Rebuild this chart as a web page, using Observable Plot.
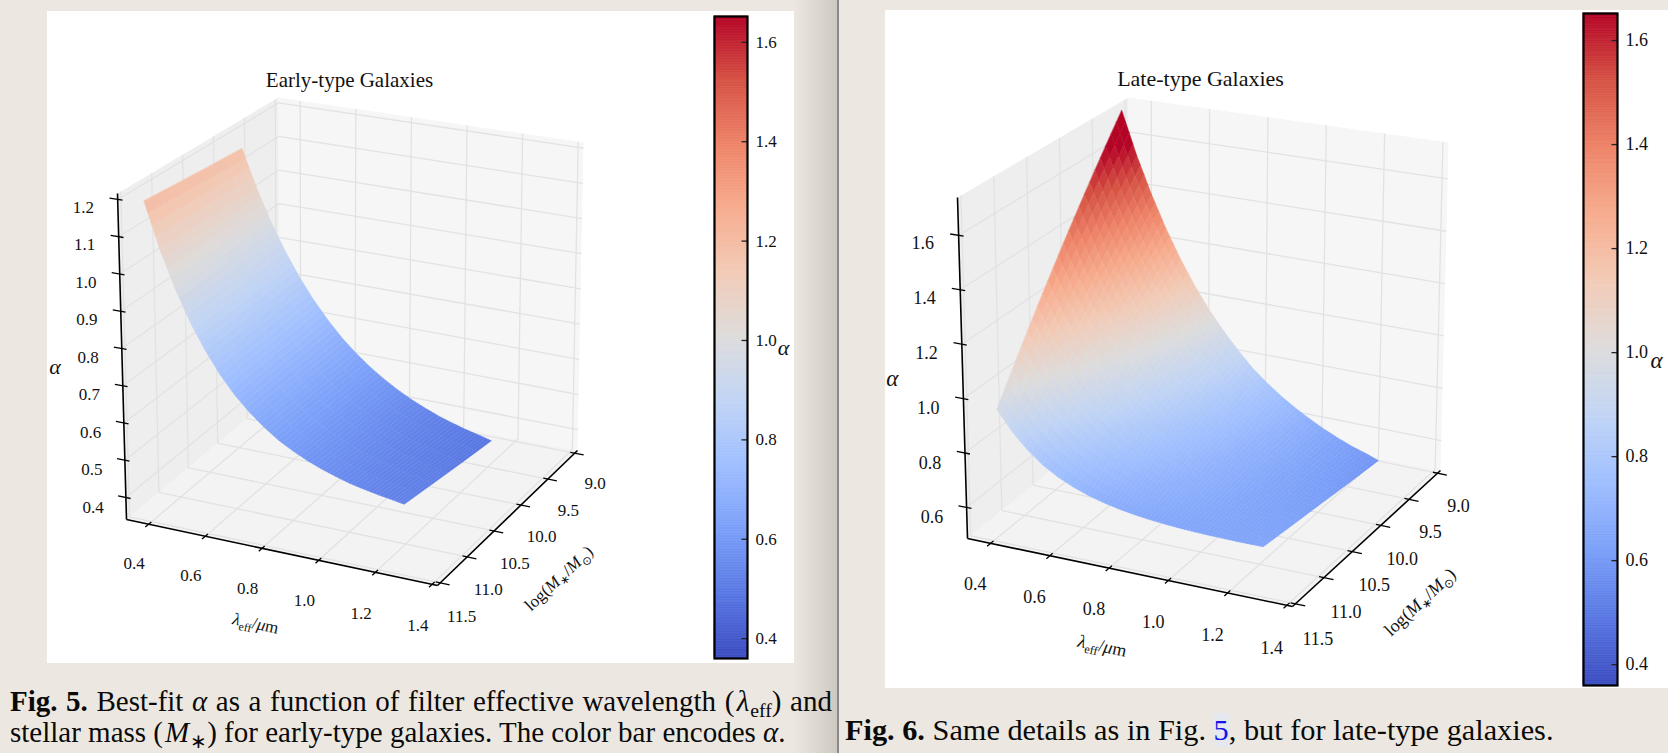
<!DOCTYPE html>
<html><head><meta charset="utf-8">
<script src="https://cdn.jsdelivr.net/npm/d3@7"></script>
<script src="https://cdn.jsdelivr.net/npm/@observablehq/plot@0.6"></script>
<style>
html,body{margin:0;padding:0}
body{width:1668px;height:753px;background:#ece8e1;position:relative;overflow:hidden;font-family:"Liberation Serif","Times New Roman",serif;color:#0a0a0a}
.abs{position:absolute}
.panel{position:absolute;background:#fff}
.panel svg{position:absolute;left:0;top:0;overflow:visible}
.cap{position:absolute;white-space:nowrap}
.cap sub{font-size:0.68em;line-height:0;vertical-align:-0.28em;margin-left:1px}
.cap i.sp{margin-left:2px}
</style></head>
<body>
<div class="abs" style="left:794px;top:0;width:43px;height:753px;background:linear-gradient(to right,rgba(120,110,95,0),rgba(110,100,90,0.24))"></div>
<div class="abs" style="left:837px;top:0;width:2px;height:753px;background:#8a8a8a"></div>
<div class="panel" id="pL" style="left:47px;top:11px;width:747px;height:652px"></div>
<div class="panel" id="pR" style="left:885px;top:10px;width:783px;height:678px"></div>
<div class="cap" style="left:10px;top:687px;width:822px;height:29px;font-size:29px;line-height:29px;text-align:justify;text-align-last:justify;white-space:nowrap;word-spacing:-2px"><b>Fig. 5.</b> Best-fit <i>α</i> as a function of filter effective wavelength <span style="white-space:nowrap">(&#8202;<i>λ</i><sub>eff</sub>)</span> and</div>
<div class="cap" style="left:10px;top:718px;font-size:29px;line-height:29px">stellar mass (<i class="sp">M</i><sub>∗</sub>) for early-type galaxies. The color bar encodes <i>α</i>.</div>
<div class="cap" style="left:845px;top:715px;font-size:30.3px;line-height:30px"><b>Fig. 6.</b> Same details as in Fig. <span style="color:#1515e8;background:#e6e8ef">5</span>, but for late-type galaxies.</div>
<script>
// ================= DATA =================
const lambdaTicks = [0.4, 0.6, 0.8, 1.0, 1.2, 1.4];
const massTicks = [9.0, 9.5, 10.0, 10.5, 11.0, 11.5];
const alphaTicksEarly = [0.4, 0.5, 0.6, 0.7, 0.8, 0.9, 1.0, 1.1, 1.2];
const alphaTicksLate = [0.6, 0.8, 1.0, 1.2, 1.4, 1.6];
const colorbarTicks = [0.4, 0.6, 0.8, 1.0, 1.2, 1.4, 1.6];
const colorDomain = [0.36, 1.652];

// axis (pane) limits of the 3D boxes
const lambdaLim = [0.322, 1.419];
const massLim = [11.552, 8.948];          // front -> back
const alphaLimEarly = [0.341, 1.216];
const alphaLimLate = [0.486, 1.739];

// surface grid: effective wavelength nodes
const surfLambda = [0.40,0.45,0.50,0.55,0.60,0.65,0.70,0.75,0.80,0.85,0.90,0.95,1.00,1.05,1.10,1.15,1.20,1.25,1.29];

// Early-type surface: alpha along lambda for each log stellar mass
const earlyMass = [9.9, 10.7, 11.5];
const earlyAlpha_9_9  = [1.180,1.075,0.985,0.908,0.841,0.784,0.735,0.692,0.656,0.625,0.598,0.575,0.555,0.538,0.523,0.511,0.500,0.491,0.483];
const earlyAlpha_10_7 = [1.190,1.077,0.982,0.902,0.834,0.777,0.729,0.689,0.655,0.626,0.602,0.581,0.564,0.549,0.536,0.526,0.517,0.510,0.503];
const earlyAlpha_11_5 = [1.200,1.078,0.978,0.895,0.827,0.770,0.723,0.685,0.653,0.626,0.605,0.587,0.572,0.560,0.549,0.541,0.534,0.528,0.523];

// Late-type surface
const lateMass = [9.4, 9.9, 10.4, 10.9, 11.4];
const lateAlpha_9_4  = [1.770,1.600,1.455,1.328,1.217,1.121,1.037,0.965,0.901,0.843,0.797,0.756,0.721,0.690,0.662,0.638,0.617,0.600,0.584];
const lateAlpha_9_9  = [1.565,1.420,1.297,1.191,1.099,1.021,0.953,0.895,0.844,0.798,0.762,0.730,0.703,0.679,0.657,0.639,0.623,0.610,0.598];
const lateAlpha_10_4 = [1.360,1.239,1.139,1.053,0.981,0.921,0.869,0.825,0.787,0.754,0.727,0.704,0.685,0.668,0.653,0.640,0.629,0.621,0.613];
const lateAlpha_10_9 = [1.155,1.059,0.980,0.916,0.863,0.820,0.784,0.755,0.730,0.709,0.692,0.678,0.666,0.656,0.648,0.641,0.635,0.631,0.627];
const lateAlpha_11_4 = [0.950,0.878,0.822,0.778,0.745,0.720,0.700,0.685,0.673,0.664,0.657,0.652,0.648,0.645,0.643,0.642,0.641,0.641,0.641];

// ================= LAYOUT (view of the 3D box, panel pixels) =================
const cornersL = {c000:[79,508], c100:[390,574], c010:[232,380], c110:[530,439],
                  c001:[70,182], c101:[394,231], c011:[231,86], c111:[536,131]};
const cornersR = {c000:[82,528], c100:[407,596], c010:[244,396], c110:[555,460],
                  c001:[72,187], c101:[410,238], c011:[243,87], c111:[563,132]};
const FONT = "Liberation Serif, Times New Roman, serif";
const coolwarmStops = ['#3b4cc0','#5977e3','#7b9ff9','#9ebeff','#c0d4f5','#dddcdc','#f2cbb7','#f7ac8e','#ee8468','#d65244','#b40426'];
const coolwarm = d3.piecewise(d3.interpolateRgb, coolwarmStops);
const colorScale = {type: "linear", domain: colorDomain, interpolate: coolwarm, clamp: true};
const EYE = [0.38, -0.814, 0.438];

function tri(c, u, v, w) {
  const l = (a, b, t) => [a[0] + (b[0] - a[0]) * t, a[1] + (b[1] - a[1]) * t];
  const B = l(l(c.c000, c.c100, u), l(c.c010, c.c110, u), v);
  const T = l(l(c.c001, c.c101, u), l(c.c011, c.c111, u), v);
  return l(B, T, w);
}

function rebuild(t, parts, fs) {
  while (t.firstChild) t.removeChild(t.firstChild);
  let shifted = false;
  for (const [txt, kind] of parts) {
    const sp = document.createElementNS("http://www.w3.org/2000/svg", "tspan");
    sp.textContent = txt;
    if (kind === "italic") sp.setAttribute("font-style", "italic");
    if (kind === "sub") {
      sp.setAttribute("font-size", fs * 0.68);
      if (!shifted) { sp.setAttribute("dy", fs * 0.25); shifted = true; }
    } else if (shifted) { sp.setAttribute("dy", -fs * 0.25); shifted = false; }
    t.appendChild(sp);
  }
}
function richText(svg, fs) {
  svg.querySelectorAll("text").forEach(t => {
    const s = t.textContent;
    if (s === "λeff/μm") rebuild(t, [["λ","italic"],["eff","sub"],["/",""],["μ","italic"],["m",""]], fs);
    else if (s === "log(M*/M⊙)") rebuild(t, [["log(",""],["M","italic"],["∗","sub"],["/",""],["M","italic"],["⊙","sub"],[")",""]], fs);
  });
}

function build3D(el, cfg) {
  const {W, H, corners, zLim, zTicks, mass, rows, fs, title, titleFs, titleX, titleY, su, sv} = cfg;
  const P = (u, v, w) => tri(corners, u, v, w);
  const U = l => (l - lambdaLim[0]) / (lambdaLim[1] - lambdaLim[0]);
  const V = m => (massLim[0] - m) / (massLim[0] - massLim[1]);
  const Wz = a => (a - zLim[0]) / (zLim[1] - zLim[0]);
  const seg = (a, b) => { const p = P(...a), q = P(...b); return {x1: p[0], y1: p[1], x2: q[0], y2: q[1]}; };
  const poly = pts => pts.map(p => { const q = P(...p); return {x: q[0], y: q[1]}; });
  const pt = (u, v, w, extra) => { const q = P(u, v, w); return {x: q[0], y: q[1], ...extra}; };

  const floor = poly([[0,0,0],[1,0,0],[1,1,0],[0,1,0]]);
  const left = poly([[0,0,0],[0,1,0],[0,1,1],[0,0,1]]);
  const back = poly([[0,1,0],[1,1,0],[1,1,1],[0,1,1]]);

  const grid = [];
  lambdaTicks.forEach(t => { const u = U(t); grid.push(seg([u,1,0],[u,1,1]), seg([u,0,0],[u,1,0])); });
  massTicks.forEach(t => { const v = V(t); grid.push(seg([0,v,0],[0,v,1]), seg([0,v,0],[1,v,0])); });
  zTicks.forEach(t => { const w = Wz(t); grid.push(seg([0,1,w],[1,1,w]), seg([0,0,w],[0,1,w])); });

  const axes = [seg([0,0,0],[1,0,0]), seg([1,0,0],[1,1,0]), seg([0,0,0],[0,0,1])];
  const ticks = [];
  lambdaTicks.forEach(t => { const u = U(t); ticks.push(seg([u,-0.022,0],[u,0.018,0])); });
  massTicks.forEach(t => { const v = V(t); ticks.push(seg([0.985,v,0],[1.03,v,0])); });
  zTicks.forEach(t => { const w = Wz(t); ticks.push(seg([-0.025,0,w],[0.015,0,w])); });

  const labels = [];
  lambdaTicks.forEach(t => labels.push(pt(U(t), -0.1, -0.08, {text: t.toFixed(1)})));
  massTicks.forEach(t => labels.push(pt(1.07, V(t), -0.085, {text: t.toFixed(1)})));
  zTicks.forEach(t => labels.push(pt(-0.053, -0.106, Wz(t), {text: t.toFixed(1)})));

  // surface quads (render subdivision of the read grid cells)
  const quads = [];
  const L = surfLambda;
  for (let i = 0; i < L.length - 1; i++) for (let j = 0; j < mass.length - 1; j++)
    for (let a = 0; a < su; a++) for (let b = 0; b < sv; b++) {
      const f = (s, t) => {
        const lam = L[i] + (L[i+1] - L[i]) * s, m = mass[j] + (mass[j+1] - mass[j]) * t;
        const al = (1-s)*(1-t)*rows[j][i] + s*(1-t)*rows[j][i+1] + (1-s)*t*rows[j+1][i] + s*t*rows[j+1][i+1];
        return [U(lam), V(m), Wz(al), al];
      };
      const pts = [f(a/su, b/sv), f((a+1)/su, b/sv), f((a+1)/su, (b+1)/sv), f(a/su, (b+1)/sv)];
      const c = [0,1,2,3].map(k => d3.mean(pts, p => p[k]));
      quads.push({pts, a: c[3], depth: EYE[0]*c[0] + EYE[1]*c[1] + EYE[2]*c[2]});
    }
  quads.sort((p, q) => p.depth - q.depth);
  const surf = [];
  quads.forEach((q, k) => q.pts.forEach(p => { const xy = P(p[0], p[1], p[2]); surf.push({id: k, x: xy[0], y: xy[1], a: q.a}); }));

  const lamTitle = pt(0.5, -0.183, -0.138, {});
  const massTitle = pt(1.172, 0.5, -0.151, {});
  const zTitle = pt(-0.13, -0.161, 0.5, {});

  const svg = Plot.plot({
    width: W, height: H, margin: 0,
    x: {domain: [0, W], range: [0, W], axis: null},
    y: {domain: [0, H], range: [0, H], axis: null},
    color: colorScale,
    style: {background: "transparent", overflow: "visible"},
    marks: [
      Plot.line(floor, {x: "x", y: "y", fill: "#f3f3f3", stroke: "none", curve: "linear-closed"}),
      Plot.line(left, {x: "x", y: "y", fill: "#eeeeee", stroke: "none", curve: "linear-closed"}),
      Plot.line(back, {x: "x", y: "y", fill: "#f6f6f6", stroke: "none", curve: "linear-closed"}),
      Plot.link(grid, {x1: "x1", y1: "y1", x2: "x2", y2: "y2", stroke: "#e2e2e2", strokeWidth: 1.3}),
      Plot.line(surf, {x: "x", y: "y", z: "id", fill: "a", stroke: "a", strokeWidth: 0.45, curve: "linear-closed"}),
      Plot.link(axes, {x1: "x1", y1: "y1", x2: "x2", y2: "y2", stroke: "#000", strokeWidth: 1.6}),
      Plot.link(ticks, {x1: "x1", y1: "y1", x2: "x2", y2: "y2", stroke: "#000", strokeWidth: 1.3}),
      Plot.text(labels, {x: "x", y: "y", text: "text", fontSize: fs, fontFamily: FONT, fill: "#111"}),
      Plot.text([lamTitle], {x: "x", y: "y", text: () => "λeff/μm", rotate: 12, fontSize: fs, fontFamily: FONT, fill: "#111"}),
      Plot.text([massTitle], {x: "x", y: "y", text: () => "log(M*/M⊙)", rotate: -43, fontSize: fs, fontFamily: FONT, fill: "#111"}),
      Plot.text([zTitle], {x: "x", y: "y", text: () => "α", fontSize: fs + 5, fontStyle: "italic", fontFamily: FONT, fill: "#111"}),
      Plot.text([title], {frameAnchor: "top-left", dx: titleX, dy: titleY, textAnchor: "middle", lineAnchor: "middle", fontSize: titleFs, fontFamily: FONT, fill: "#111"})
    ]
  });
  el.appendChild(svg);
  richText(svg, fs);
}

function buildColorbar(left, top, bw, bh, fs, aDx, aDy) {
  const n = 400, lo = colorDomain[0], hi = colorDomain[1];
  const strips = d3.range(n).map(i => ({y1: lo + (hi - lo) * i / n, y2: lo + (hi - lo) * (i + 1) / n, v: lo + (hi - lo) * (i + 0.5) / n}));
  const svg = Plot.plot({
    width: bw + 75, height: bh + 2,
    marginLeft: 1, marginRight: 74, marginTop: 1, marginBottom: 1,
    x: {domain: [0, 1], axis: null},
    y: {domain: colorDomain, axis: null},
    color: colorScale,
    style: {background: "transparent", overflow: "visible"},
    marks: [
      Plot.rect(strips, {x1: () => 0, x2: () => 1, y1: "y1", y2: "y2", fill: "v", stroke: "v", strokeWidth: 0.6}),
      Plot.link(colorbarTicks, {x1: () => 1 - 6 / bw, x2: () => 1, y1: d => d, y2: d => d, stroke: "#222", strokeWidth: 1.3}),
      Plot.frame({stroke: "#000", strokeWidth: 2.2}),
      Plot.text(colorbarTicks, {x: () => 1, y: d => d, text: d => d.toFixed(1), dx: 8, textAnchor: "start", fontSize: fs, fontFamily: FONT, fill: "#111"}),
      Plot.text(["α"], {frameAnchor: "right", text: d => d, dx: aDx, dy: aDy, textAnchor: "middle", fontStyle: "italic", fontSize: fs + 5, fontFamily: FONT, fill: "#111"})
    ]
  });
  svg.style.position = "absolute";
  svg.style.left = (left - 1) + "px";
  svg.style.top = (top - 1) + "px";
  svg.style.overflow = "visible";
  document.body.appendChild(svg);
}

build3D(document.getElementById("pL"), {
  W: 747, H: 652, corners: cornersL, zLim: alphaLimEarly, zTicks: alphaTicksEarly,
  mass: earlyMass, rows: [earlyAlpha_9_9, earlyAlpha_10_7, earlyAlpha_11_5],
  fs: 17, title: "Early-type Galaxies", titleFs: 21, titleX: 302, titleY: 68.5, su: 4, sv: 3
});
build3D(document.getElementById("pR"), {
  W: 783, H: 678, corners: cornersR, zLim: alphaLimLate, zTicks: alphaTicksLate,
  mass: lateMass, rows: [lateAlpha_9_4, lateAlpha_9_9, lateAlpha_10_4, lateAlpha_10_9, lateAlpha_11_4],
  fs: 18, title: "Late-type Galaxies", titleFs: 22, titleX: 315, titleY: 68, su: 4, sv: 6
});
buildColorbar(714, 16, 33, 642, 17, 36, 10);
buildColorbar(1583, 13, 34, 672, 18, 39, 11);
</script>
</body></html>
